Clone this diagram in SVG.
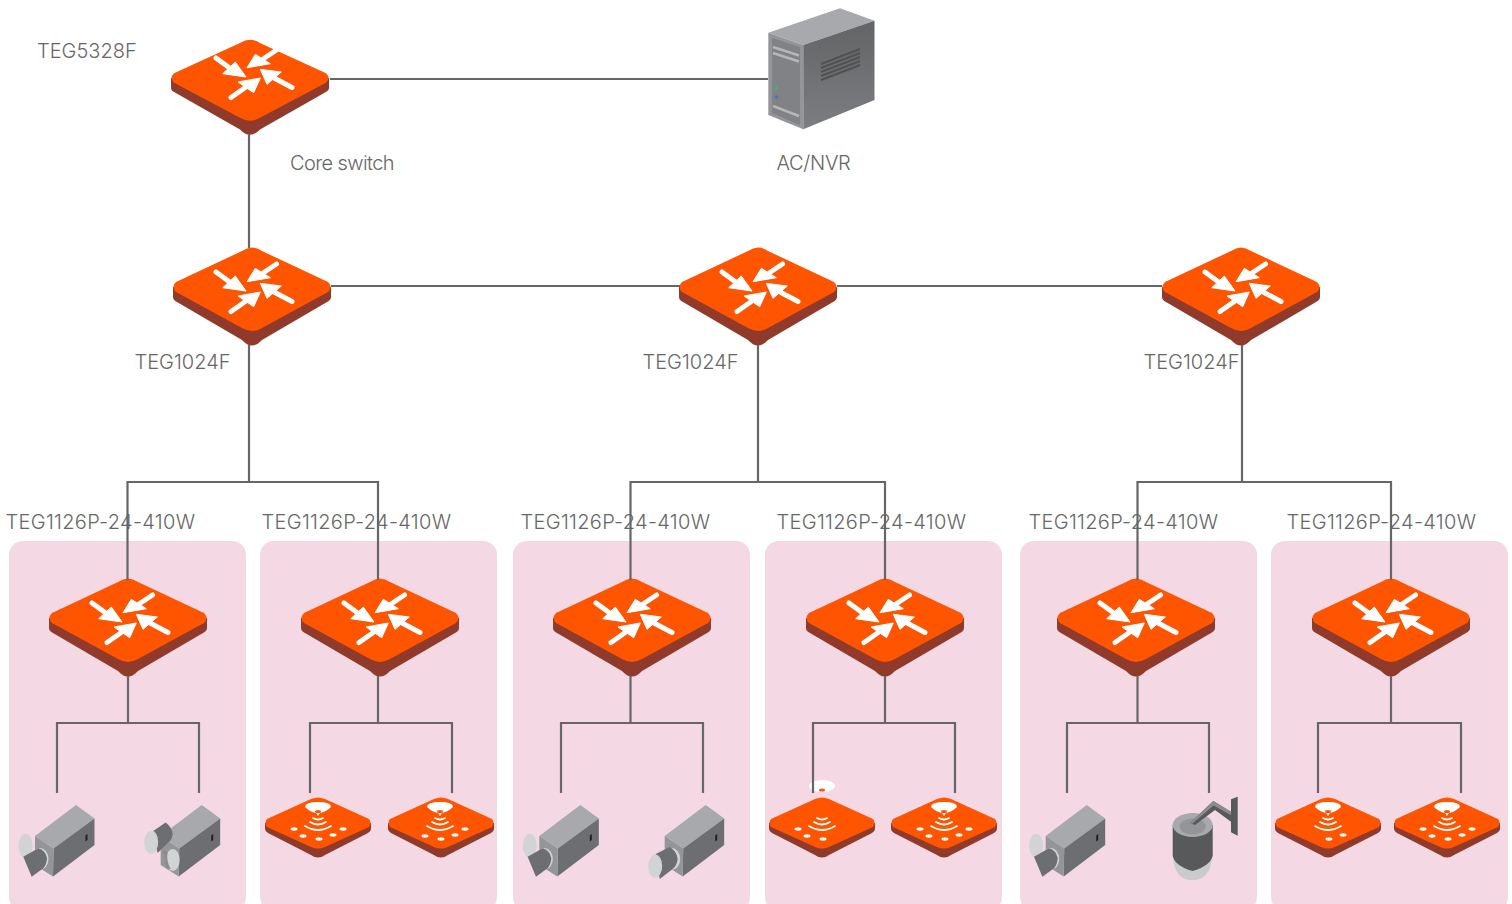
<svg xmlns="http://www.w3.org/2000/svg" width="1512" height="904" viewBox="0 0 1512 904">
<style>
text{font-family:Inter,"Noto Sans",sans-serif;font-weight:300;font-size:20px;fill:#666}
.long{letter-spacing:.3px}
.panel{fill:#f4d8e4}
.lines path{fill:none;stroke:#666;stroke-width:2.200}
.or{fill:#ff5400}.sd{fill:#8f3a2a}.w{fill:#fff}
.arc{fill:none;stroke:#fff;stroke-width:1.800;stroke-linecap:round}
.shaft{stroke:#fff;stroke-width:5;stroke-linecap:round;fill:none}
.top{fill:#a7a9ac}.rt{fill:#6d6e71}.fr{fill:#939598}.lt{fill:#d1d3d4}.dk{fill:#6d6e71}
</style>
<defs>
<g id="base">
<path class="sd" d="M-79,0V10Q-79,13 -75,15L-10,53Q0,64 10,53L75,15Q79,13 79,10V0Z"/>
<path class="or" d="M-76,-5L-10,-36Q0,-43 10,-36L76,-5Q81,0 76,5L10,41Q0,47 -10,41L-76,5Q-81,0 -76,-5Z"/>
</g>
<g id="arrows">
<path class="shaft" d="M-36,-15L-23,-5.500M24.500,-23L11,-14M40,14.500L22,5M-21,24.500L-6,14"/>
<path class="w" stroke="#fff" stroke-width="1" stroke-linejoin="round" d="M-6,4L-29.300,.7L-16.700,-11ZM-5,-5.300L18.300,-9.300L3.300,-18.700ZM8.300,-3.700L15,11.300L29.300,-1ZM8.300,5L-14,9L1.700,19.700Z"/>
</g>
<g id="sw"><use href="#base"/><use href="#arrows"/></g>
<g id="apbase">
<path class="sd" d="M-53,0V6Q-53,8 -50,10L-7,32Q0,37 7,32L50,10Q53,8 53,6V0Z"/>
<path class="or" d="M-51,-4L-7,-24Q0,-27 7,-24L51,-4Q54,0 51,4L7,24Q0,27 -7,24L-51,4Q-54,0 -51,-4Z"/>
</g>
<g id="wifi">
<path class="arc" d="M-5,-5Q0,-2 5,-5M-8,-1Q0,4 8,-1M-13,3Q0,11 13,3"/>
</g>
<g id="dome">
<path class="w" d="M-13,-16Q-13,-21 0,-21Q13,-21 13,-16Q8,-11 2,-10L0,-7L-2,-10Q-8,-11 -13,-16Z"/>
<ellipse class="or" cx="0" cy="-11.500" rx="3" ry="1.500"/>
</g>
<ellipse id="d1" class="w" cx="-24" cy="6" rx="3.500" ry="1.700"/>
<ellipse id="d2" class="w" cx="-15" cy="13" rx="3.500" ry="1.700"/>
<ellipse id="d3" class="w" cx="1" cy="16" rx="3.500" ry="1.700"/>
<ellipse id="d4" class="w" cx="15" cy="12" rx="3.500" ry="1.700"/>
<ellipse id="d5" class="w" cx="25" cy="6" rx="3.500" ry="1.700"/>
<g id="ap5"><use href="#apbase"/><use href="#dome"/><use href="#wifi"/><use href="#d1"/><use href="#d2"/><use href="#d3"/><use href="#d4"/><use href="#d5"/></g>
<g id="cambody">
<path class="top" d="M41,-31L59.500,-17.500L18.500,12.500L0,0Z"/>
<path class="rt" d="M59.500,-17.500V9L18,40.500L18.500,12.500Z"/>
<path class="fr" d="M0,0L18.500,12.500L18,40.500L0,29Z"/>
<path d="M50.500,-.5l2,-1.500v6l-2,1.500Z" fill="#231f20"/>
</g>
<g id="camA">
<use href="#cambody"/>
<ellipse class="lt" cx="-9.500" cy="9.700" rx="7" ry="12"/>
<ellipse cx="5" cy="23" rx="8.500" ry="11" fill="#d1d3d4"/>
<path class="dk" d="M-11.700,20.700L3.300,12.300Q10,14 12,22Q11.500,29 8.300,32.300L-3.300,40.700Z"/>
</g>
<g id="camB">
<use href="#cambody"/>
<ellipse cx="12" cy="24" rx="7" ry="11" fill="#d1d3d4"/>
<path d="M2,14Q6,28 5,32L10,33Q5,24 7,16Z" fill="#8a8c8e"/>
<path class="dk" d="M-9,-4L5,-13.500Q11,-9 12,-2Q11,4 8,6L-3,17Z"/>
<ellipse class="lt" cx="-9.500" cy="6" rx="7" ry="11.500"/>
</g>
<g id="camC">
<use href="#cambody"/>
<ellipse cx="7" cy="23" rx="8.500" ry="11" fill="#d1d3d4"/>
<path class="dk" d="M-9,18L5,11Q12,15 13,23Q12,30 8,33L-5,43Z"/>
<ellipse class="lt" cx="-9.500" cy="30" rx="7" ry="11.500"/>
</g>
<linearGradient id="srvR" x1="0" y1="0" x2="0" y2="1"><stop offset="0" stop-color="#636466"/><stop offset="1" stop-color="#7c7d80"/></linearGradient>
</defs>

<rect class="panel" x="9" y="541" width="237" height="370" rx="14"/>
<rect class="panel" x="260" y="541" width="237" height="370" rx="14"/>
<rect class="panel" x="513" y="541" width="237" height="370" rx="14"/>
<rect class="panel" x="765" y="541" width="237" height="370" rx="14"/>
<rect class="panel" x="1020" y="541" width="237" height="370" rx="14"/>
<rect class="panel" x="1271" y="541" width="237" height="370" rx="14"/>

<g id="core-switch"><use href="#base" transform="translate(250 78) scale(1 .97)"/><use href="#arrows" transform="translate(252 73)"/></g>
<g id="server">
<path fill="#a7a9ac" d="M768.300,32.700L840,8.300L874.500,20.700L803.300,45Z"/>
<path fill="#939598" d="M768.300,32.700L803.300,45V129.300L768.300,115Z"/>
<path fill="#808285" d="M772,38L800,47V125L772,113Z"/>
<path fill="url(#srvR)" d="M803.300,45L874.500,20.700V100L803.300,129.300Z"/>
<path fill="none" stroke="#b4b6b8" stroke-width="2.500" d="M773,47L799,55.500M773,53L799,61.500M773,106L799,116"/>
<path fill="none" stroke="#505153" stroke-width="2" d="M821,64L860,49M821,68L860,53M821,72L860,57M821,76L860,61M821,80L860,65"/>
<circle cx="776.500" cy="88" r="2" fill="#4fa87c"/>
<circle cx="776.500" cy="97" r="1.800" fill="#3f74b5"/>
</g>
<g id="agg-1"><use href="#sw" transform="translate(252 287)"/></g>
<g id="agg-2"><use href="#sw" transform="translate(758 287)"/></g>
<g id="agg-3"><use href="#sw" transform="translate(1241 287)"/></g>
<g id="access-1"><use href="#sw" transform="translate(128 618)"/></g>
<g id="access-2"><use href="#sw" transform="translate(380 618)"/></g>
<g id="access-3"><use href="#sw" transform="translate(632 618)"/></g>
<g id="access-4"><use href="#sw" transform="translate(885 618)"/></g>
<g id="access-5"><use href="#sw" transform="translate(1136 618)"/></g>
<g id="access-6"><use href="#sw" transform="translate(1391 618)"/></g>

<g id="cam-1a"><use href="#camA" transform="translate(35 836)"/></g>
<g id="cam-1b"><use href="#camB" transform="translate(160.700 836)"/></g>
<g id="ap-2a"><use href="#ap5" transform="translate(318 823)"/></g>
<g id="ap-2b"><use href="#apbase" transform="translate(441 823)"/><g transform="translate(440 823)"><use href="#dome"/><use href="#wifi"/><use href="#d2"/><use href="#d3"/><use href="#d4"/><use href="#d5"/></g></g>
<g id="cam-3a"><use href="#camA" transform="translate(539.300 836)"/></g>
<g id="cam-3b"><use href="#camC" transform="translate(664.700 836)"/></g>
<g id="ap-4a">
<ellipse class="w" cx="822" cy="786" rx="13" ry="6"/><ellipse class="or" cx="822" cy="790" rx="3" ry="1.500"/>
<g transform="translate(822 823)"><use href="#apbase"/><use href="#wifi"/><use href="#d1"/><use href="#d2"/><use href="#d3"/></g>
</g>
<g id="ap-4b"><use href="#ap5" transform="translate(944 823)"/></g>
<g id="cam-5a"><use href="#camA" transform="translate(1045.700 836)"/></g>
<g id="dome-5b">
<path fill="#c9cbcc" d="M1173,858Q1175,880 1192.500,880Q1210,880 1212,858Z"/>
<path fill="#58595b" d="M1172.700,825V856Q1175,866 1192.500,871Q1210,866 1212.700,856V825Z"/>
<ellipse cx="1192.700" cy="825" rx="20" ry="12" fill="#a7a9ac"/>
<ellipse cx="1192.700" cy="826.500" rx="13" ry="8" fill="#939598"/>
<path fill="#58595b" d="M1190,823L1213.300,801L1231,811.700V821.700L1215,810L1195,825Z"/>
<path fill="#8a8c8e" d="M1190,823L1213.300,801L1231,811.700V815L1213.500,805.500L1192,824Z"/>
<path fill="#58595b" d="M1231,799.300L1237.700,796.700V835.700L1231,832.300Z"/>
</g>
<g id="ap-6a"><use href="#apbase" transform="translate(1328 823)"/><g transform="translate(1328 823)"><use href="#dome"/><use href="#wifi"/><use href="#d3"/><use href="#d4"/></g></g>
<g id="ap-6b"><use href="#ap5" transform="translate(1447 823)"/></g>

<g class="lines" id="connectors">
<path d="M330,79H768"/>
<path d="M249,134V248"/>
<path d="M331,286H680M837,286H1162"/>
<path d="M249,345V482M127.500,580V482H378V580"/>
<path d="M758,345V482M630.500,580V482H885V580"/>
<path d="M1242,345V482M1137.500,580V482H1391V580"/>
<path d="M128,676V722M57,793V723H199V793"/>
<path d="M378,676V722M310,793V723H452V793"/>
<path d="M630.500,676V722M561,793V723H703V793"/>
<path d="M885,676V722M813,793V723H955V793"/>
<path d="M1137.500,676V722M1067,793V723H1209V793"/>
<path d="M1391,676V722M1318,793V723H1461V793"/>
</g>

<g id="labels">
<text x="37" y="58">TEG5328F</text>
<text x="290" y="170" style="letter-spacing:-.6px">Core switch</text>
<text x="776.500" y="170" style="letter-spacing:-.3px">AC/NVR</text>
<text x="134.500" y="369">TEG1024F</text>
<text x="642.500" y="369">TEG1024F</text>
<text x="1143.500" y="369">TEG1024F</text>
<text class="long" x="5.500" y="529">TEG1126P-24-410W</text>
<text class="long" x="261.500" y="529">TEG1126P-24-410W</text>
<text class="long" x="520.500" y="529">TEG1126P-24-410W</text>
<text class="long" x="776.500" y="529">TEG1126P-24-410W</text>
<text class="long" x="1028.500" y="529">TEG1126P-24-410W</text>
<text class="long" x="1286.500" y="529">TEG1126P-24-410W</text>
</g>
</svg>
